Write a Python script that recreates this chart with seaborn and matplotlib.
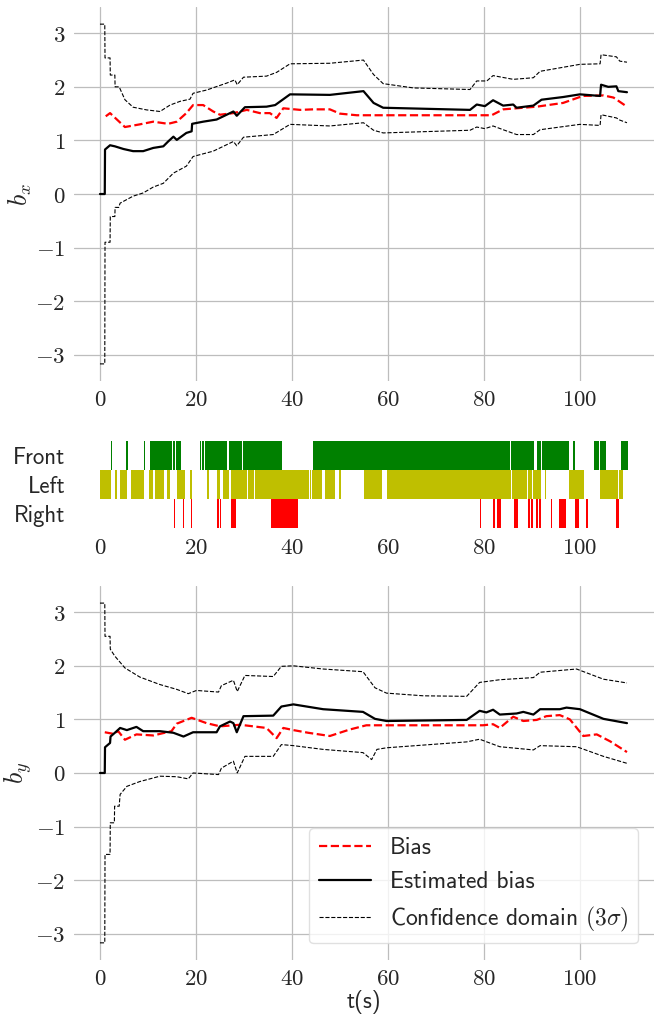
"""
Bias estimation along x and y with the active sensor timeline in between.
"""
import numpy as np
import matplotlib
matplotlib.use("Agg")
import matplotlib.pyplot as plt
import seaborn as sns
from matplotlib.ticker import FuncFormatter

# ---- b_x panel ----
t_bias_x = [1.2, 2.1, 5.2, 8.3, 11.1, 14.2, 16, 18, 19.4, 21.5, 23.6, 25, 27.8, 30.6, 33.3, 35.4, 36.8,
            38.2, 41.7, 44.4, 47.9, 50, 53.5, 60, 70, 81.6, 84, 91, 96.5, 100.6, 104.9, 107, 109.8]
bias_x = [1.45, 1.51, 1.25, 1.30, 1.35, 1.31, 1.35, 1.51, 1.66, 1.66, 1.54, 1.48, 1.51, 1.57, 1.51, 1.51, 1.42,
          1.60, 1.57, 1.58, 1.58, 1.50, 1.47, 1.47, 1.47, 1.47, 1.58, 1.63, 1.70, 1.83, 1.84, 1.80, 1.63]

t_est_x = [0, 1.0, 1.05, 2.1, 3.1, 4.9, 6.9, 9, 11.1, 13.2, 14.2, 15.3, 16, 18, 19.1, 19.2, 21.5, 24.3,
           27.8, 28.5, 30.2, 34.7, 36.5, 39.6, 47.9, 54.9, 57, 59, 77.1, 78.5, 80.2, 81.9, 84, 86.1, 86.8,
           90.3, 92, 96.5, 100, 104.2, 104.4, 105.9, 107.6, 108, 109.8]
est_x = [0, 0, 0.83, 0.91, 0.89, 0.84, 0.80, 0.80, 0.86, 0.89, 0.98, 1.07, 1.01, 1.14, 1.17, 1.31, 1.35, 1.39,
         1.54, 1.46, 1.62, 1.63, 1.66, 1.86, 1.85, 1.92, 1.70, 1.61, 1.57, 1.67, 1.64, 1.75, 1.65, 1.67, 1.61,
         1.65, 1.76, 1.81, 1.86, 1.83, 2.04, 2.00, 2.01, 1.92, 1.90]

t_up_x = [0, 1.0, 1.05, 2.1, 2.15, 3.1, 3.15, 4.0, 5.2, 6.9, 9.7, 12.5, 14.6, 16.7, 18.75, 19.4, 22.2, 26.4,
          28.1, 28.6, 29.9, 34.7, 36.8, 39.6, 47.9, 54.9, 57, 59, 65.3, 77.1, 78.5, 80.6, 81.9, 86.1, 90.3,
          91.7, 100, 104.2, 104.4, 107.6, 108.3, 109.8]
up_x = [3.17, 3.17, 2.54, 2.54, 2.22, 2.22, 2.0, 2.0, 1.76, 1.62, 1.57, 1.54, 1.66, 1.73, 1.77, 1.88, 1.94, 2.07,
        2.13, 2.04, 2.18, 2.20, 2.27, 2.43, 2.44, 2.50, 2.23, 2.06, 1.98, 1.95, 2.11, 2.11, 2.21, 2.14, 2.17,
        2.29, 2.42, 2.43, 2.60, 2.56, 2.48, 2.46]

t_lo_x = [0, 1.0, 1.05, 2.1, 2.15, 3.1, 3.15, 3.9, 4.2, 6.9, 9, 11.1, 13.2, 15.3, 18, 19.4, 23.6, 27.8, 28.5,
          29.9, 36.1, 39.6, 47.9, 54.9, 57, 59, 77.1, 78.5, 80.2, 81.9, 84, 86.8, 90.3, 91.7, 100, 104.2,
          104.4, 107.6, 108.3, 109.8]
lo_x = [-3.17, -3.17, -0.90, -0.90, -0.42, -0.42, -0.25, -0.25, -0.17, -0.04, 0.02, 0.13, 0.20, 0.39, 0.52,
        0.70, 0.80, 0.98, 0.90, 1.06, 1.11, 1.30, 1.27, 1.33, 1.19, 1.14, 1.19, 1.25, 1.22, 1.27, 1.20, 1.11,
        1.11, 1.20, 1.30, 1.28, 1.48, 1.42, 1.38, 1.33]

# ---- b_y panel ----
t_bias_y = [1, 2.8, 3.8, 5.2, 7.6, 11.1, 14.9, 16, 19.1, 22.2, 25, 29.2, 34.7, 36.8, 38.2, 40.3, 43.4, 47.9,
            52, 55.5, 79.8, 81.9, 83.3, 86.1, 88.2, 91, 93, 95.8, 97.9, 100.7, 103.5, 106.3, 109.8]
bias_y = [0.76, 0.73, 0.78, 0.62, 0.72, 0.70, 0.78, 0.92, 1.03, 0.93, 0.87, 0.90, 0.84, 0.65, 0.84, 0.80, 0.75,
          0.69, 0.81, 0.89, 0.89, 0.91, 0.84, 1.05, 0.97, 0.99, 1.06, 1.08, 1.00, 0.69, 0.72, 0.59, 0.39]

t_est_y = [0, 1.0, 1.05, 2.1, 2.2, 3.1, 4.2, 5.6, 7.6, 9, 12.5, 15.3, 17.4, 19.4, 24.3, 25, 27.1, 27.8, 28.5,
           29.9, 36.1, 37.8, 40.3, 46.5, 54.8, 57.3, 59.7, 76.4, 79.1, 80.5, 81.9, 83.3, 86.8, 88.2, 90.3,
           91.7, 95.8, 97.2, 100, 104.9, 109.8]
est_y = [0, 0, 0.48, 0.56, 0.68, 0.75, 0.84, 0.80, 0.86, 0.78, 0.78, 0.75, 0.68, 0.76, 0.76, 0.87, 0.96, 0.93,
         0.76, 1.06, 1.07, 1.24, 1.28, 1.19, 1.14, 1.01, 0.97, 0.99, 1.16, 1.13, 1.18, 1.09, 1.11, 1.14, 1.09,
         1.19, 1.19, 1.22, 1.19, 1.01, 0.93]

t_up_y = [0, 1.0, 1.05, 2.1, 2.15, 3.1, 5.2, 8.3, 12.5, 16, 18.4, 20.1, 24.7, 25.3, 27.8, 28.6, 30.2, 36.1,
          37.8, 40.3, 46.5, 54.8, 57.3, 59.7, 67.4, 76.4, 79.1, 83.3, 90.3, 91.7, 99.3, 104.9, 109.8]
up_y = [3.17, 3.17, 2.55, 2.55, 2.31, 2.18, 1.96, 1.79, 1.65, 1.56, 1.48, 1.54, 1.51, 1.63, 1.73, 1.52, 1.82,
        1.80, 1.99, 2.00, 1.94, 1.89, 1.59, 1.49, 1.44, 1.43, 1.69, 1.74, 1.78, 1.88, 1.94, 1.75, 1.68]

t_lo_y = [0, 1.0, 1.05, 2.1, 2.15, 3.0, 3.05, 4.0, 4.2, 5.6, 8.3, 12.5, 16, 18.4, 19.4, 24.7, 25.3, 27.8,
          28.6, 30.2, 36.1, 37.8, 40.3, 46.5, 54.8, 56.6, 57.7, 59.7, 76.4, 79.1, 83.3, 90.3, 91.7, 99.3,
          104.9, 109.8]
lo_y = [-3.17, -3.17, -1.52, -1.52, -0.93, -0.93, -0.62, -0.62, -0.40, -0.25, -0.16, -0.06, -0.07, -0.11, 0.0,
        -0.03, 0.09, 0.22, 0.0, 0.31, 0.31, 0.53, 0.51, 0.44, 0.38, 0.25, 0.44, 0.47, 0.58, 0.63, 0.49, 0.43,
        0.51, 0.49, 0.31, 0.18]

# ---- sensor activity (start, end) in seconds ----
sensor_names = ["Right", "Left", "Front"]
sensor_colors = [(1.0, 0.0, 0.0), (0.75, 0.75, 0.0), (0.0, 0.5, 0.0)]
front_spans = [(2.4, 2.6), (5.5, 5.8), (9.1, 9.4), (10.4, 15.0), (15.3, 15.7), (15.9, 16.8), (20.9, 21.1),
               (21.3, 21.6), (21.8, 26.4), (26.8, 29.6), (29.8, 37.9), (44.4, 85.4), (85.6, 90.5), (91.1, 91.8),
               (92.2, 95.4), (95.5, 97.7), (98.6, 99.0), (102.9, 103.9), (104.1, 105.5), (108.5, 110.0)]
left_spans = [(0.1, 2.3), (3.1, 3.6), (4.1, 5.7), (6.5, 9.1), (10.3, 11.1), (11.4, 13.4), (14.0, 14.5),
              (16.1, 17.8), (18.7, 19.1), (22.2, 22.7), (24.3, 25.1), (25.7, 26.8), (27.4, 30.7), (30.9, 32.0),
              (32.4, 43.5), (43.7, 44.0), (44.1, 46.3), (46.9, 48.9), (49.9, 50.2), (55.0, 58.8), (59.9, 85.7),
              (85.9, 88.9), (89.1, 90.0), (90.3, 91.8), (92.7, 93.0), (97.8, 100.9), (104.1, 107.9), (108.2, 109.0)]
right_spans = [(15.5, 15.7), (17.2, 17.5), (18.9, 19.2), (24.4, 24.8), (25.0, 25.2), (27.4, 28.4), (35.6, 41.2),
               (79.2, 79.4), (81.9, 82.2), (82.7, 83.6), (86.3, 86.6), (86.7, 87.1), (89.2, 89.7), (89.9, 90.3),
               (90.9, 91.3), (91.5, 91.8), (93.9, 94.1), (95.7, 97.0), (98.9, 99.9), (101.3, 101.6), (107.6, 108.1)]

XTICKS = [0, 20, 40, 60, 80, 100]
YTICKS = [-3, -2, -1, 0, 1, 2, 3]


def math_fmt(v, pos):
    return f"${v:g}$"


def style_ticks(ax, grid=True):
    ax.set_xlim(-5.5, 115.5)
    ax.set_xticks(XTICKS)
    ax.xaxis.set_major_formatter(FuncFormatter(math_fmt))
    ax.tick_params(axis="both", length=3, width=0.8, color=".15", labelsize=16.5, pad=3)
    for s in ax.spines.values():
        s.set_visible(False)
    if grid:
        ax.grid(True, color="#bdbdbd", lw=0.9)
    else:
        ax.grid(False)


def bias_panel(ax, tb, b, te, e, tu, u, tl, l, ylabel, legend=False):
    sns.lineplot(x=tb, y=b, ax=ax, color="red", linestyle="--", lw=1.6, estimator=None, sort=False,
                 label="Bias" if legend else None)
    sns.lineplot(x=te, y=e, ax=ax, color="black", lw=1.6, estimator=None, sort=False,
                 label="Estimated bias" if legend else None)
    sns.lineplot(x=tu, y=u, ax=ax, color="black", linestyle="--", lw=0.8, estimator=None, sort=False,
                 label=r"Confidence domain $(3\sigma)$" if legend else None)
    sns.lineplot(x=tl, y=l, ax=ax, color="black", linestyle="--", lw=0.8, estimator=None, sort=False)
    ax.set_ylim(-3.49, 3.49)
    ax.set_yticks(YTICKS)
    ax.yaxis.set_major_formatter(FuncFormatter(math_fmt))
    ax.set_ylabel(ylabel, fontsize=19, labelpad=1)
    ax.set_xlabel("")
    style_ticks(ax)


sns.set_theme(style="whitegrid")
plt.rcParams["font.family"] = ["cmss10", "DejaVu Sans"]
plt.rcParams["mathtext.fontset"] = "cm"
plt.rcParams["axes.unicode_minus"] = False

fig = plt.figure(figsize=(6.54, 10.15), dpi=100)
ax_x = fig.add_axes([0.1125, 0.6246, 0.888, 0.3685])
ax_s = fig.add_axes([0.1125, 0.4788, 0.888, 0.0877])
ax_y = fig.add_axes([0.1125, 0.0542, 0.888, 0.3685])

bias_panel(ax_x, t_bias_x, bias_x, t_est_x, est_x, t_up_x, up_x, t_lo_x, lo_x, r"$b_x$")
bias_panel(ax_y, t_bias_y, bias_y, t_est_y, est_y, t_up_y, up_y, t_lo_y, lo_y, r"$b_y$", legend=True)

# sensor timeline
for i, spans in enumerate([right_spans, left_spans, front_spans]):
    ax_s.broken_barh([(a, b - a) for a, b in spans], (i - 0.5, 1.0), facecolors=sensor_colors[i], lw=0)
ax_s.set_ylim(-0.55, 2.55)
ax_s.set_yticks(range(len(sensor_names)))
ax_s.set_yticklabels(sensor_names)
style_ticks(ax_s, grid=False)

ax_y.set_xlabel("t(s)", fontsize=16.5, labelpad=0)
leg = ax_y.legend(loc="lower right", fontsize=17, frameon=True, framealpha=0.8, edgecolor="0.85",
                  handlelength=2.2, borderaxespad=0.7)

fig.savefig("out.png", dpi=100)
